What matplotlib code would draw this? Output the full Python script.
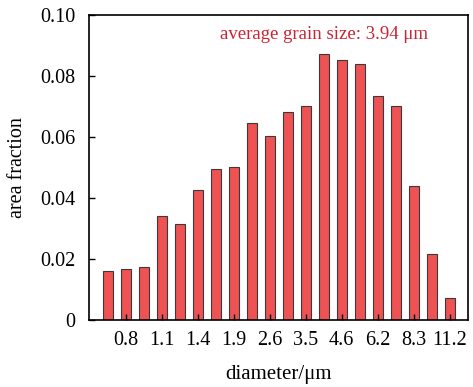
import numpy as np
import matplotlib
matplotlib.use('Agg')
from matplotlib import pyplot as plt

# area fraction per diameter class
fractions = [0.0162, 0.0167, 0.0173, 0.0342, 0.0316, 0.0427, 0.0496, 0.0501,
             0.0647, 0.0603, 0.0683, 0.0702, 0.0871, 0.0852, 0.0838, 0.0735,
             0.0703, 0.0439, 0.0216, 0.0072]
tick_labels = ['0.8', '1.1', '1.4', '1.9', '2.6', '3.5', '4.6', '6.2', '8.3', '11.2']
y_ticks = [0, 0.02, 0.04, 0.06, 0.08, 0.10]
y_tick_labels = ['0', '0.02', '0.04', '0.06', '0.08', '0.10']

plt.rcParams['font.family'] = ['Liberation Serif', 'DejaVu Serif']

fig = plt.figure(figsize=(4.73, 3.87), dpi=100)
ax = fig.add_axes([0.188, 0.173, 0.801, 0.788])

x = np.arange(len(fractions))
ax.bar(x, fractions, width=0.55, color='#ee5253', edgecolor='#3a3a3a', linewidth=0.8)

ax.set_xlim(-1.05, 20.0)
ax.set_ylim(0, 0.10)
ax.set_xticks(x[1::2])
ax.set_xticklabels(tick_labels)
ax.set_yticks(y_ticks)
ax.set_yticklabels(y_tick_labels)
ax.tick_params(direction='in', labelsize=14.5, length=4, width=1, pad=8)
ax.tick_params(axis='y', pad=10)

for s in ax.spines.values():
    s.set_linewidth(1.2)

ax.set_xlabel('diameter/μm', fontsize=15, labelpad=11)
ax.set_ylabel('area fraction', fontsize=14.5, labelpad=9)

ax.text(0.62, 0.935, 'average grain size: 3.94 μm', transform=ax.transAxes,
        color='#cc2233', fontsize=13.5, ha='center', va='center')

fig.savefig('out.png', dpi=100)
